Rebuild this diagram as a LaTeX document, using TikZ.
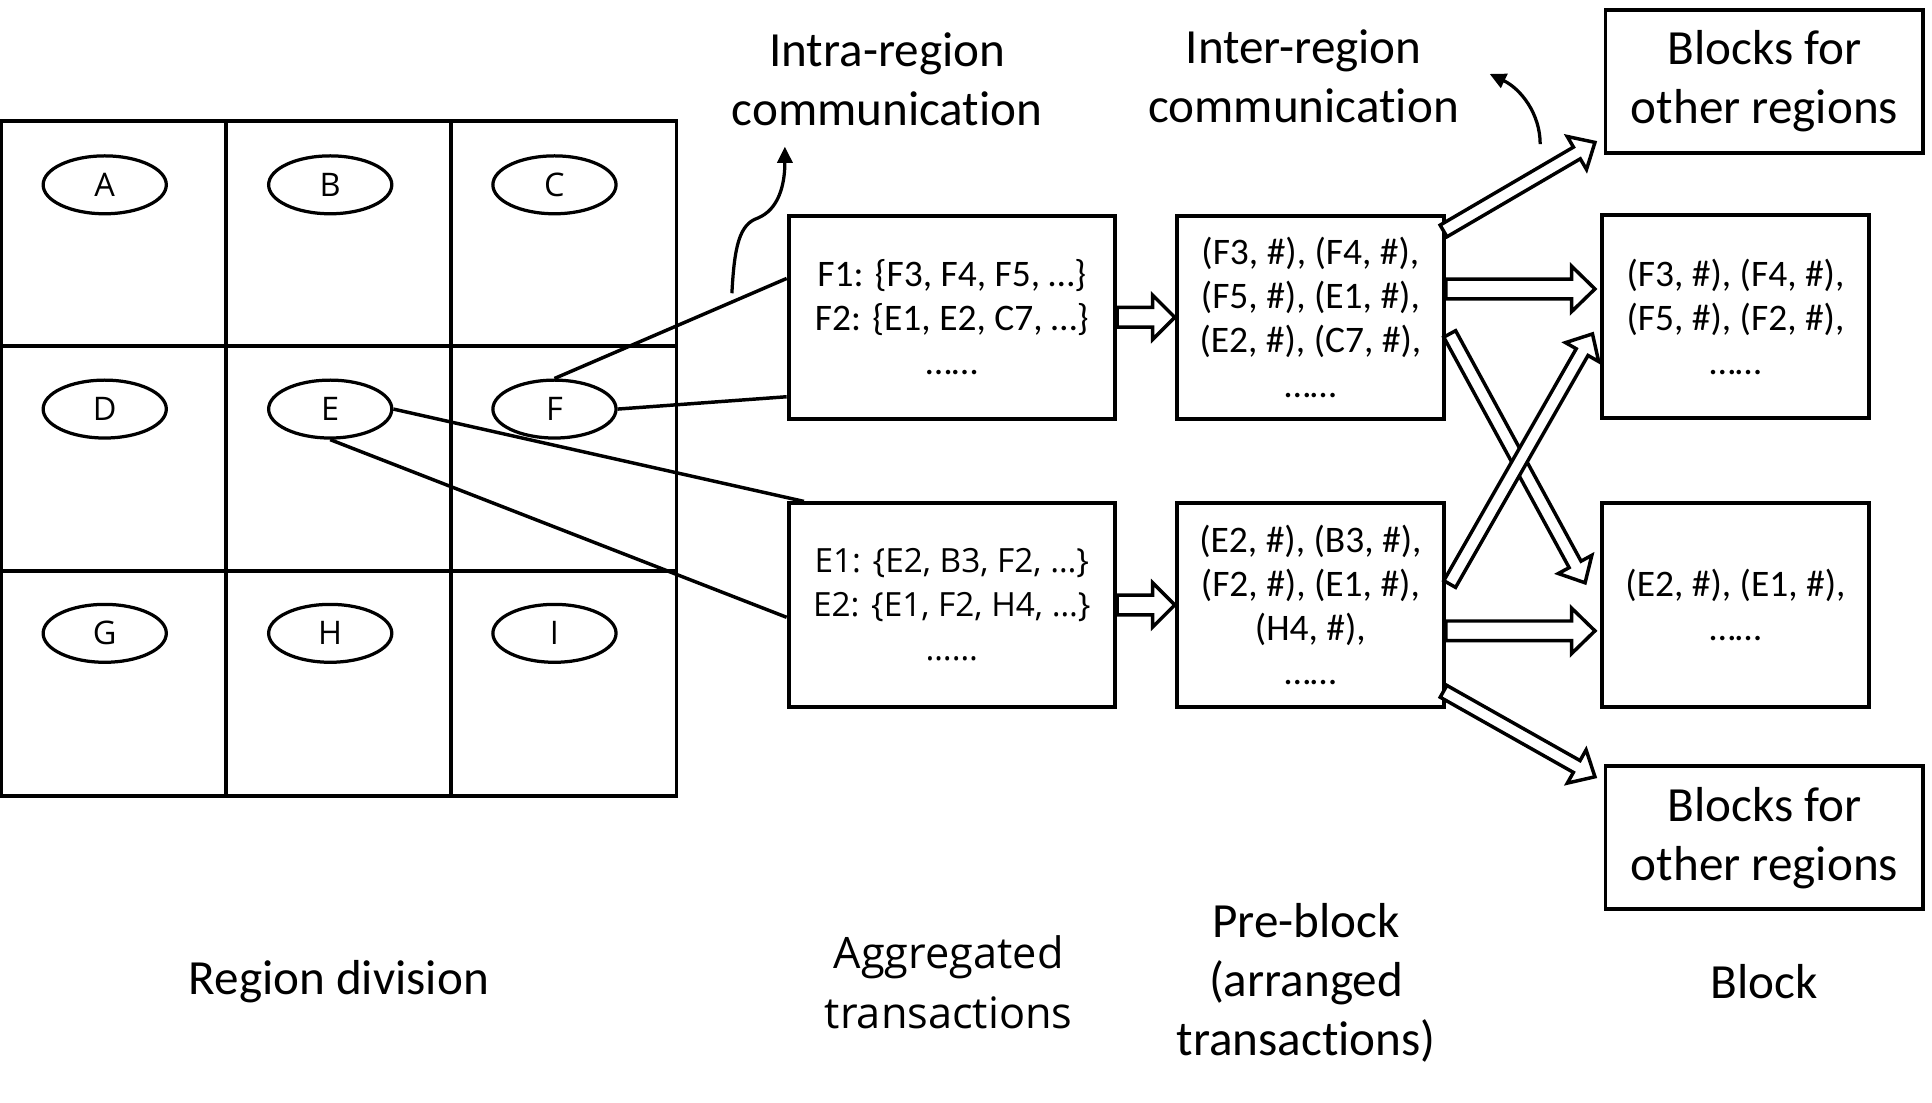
\documentclass[tikz,border=0pt]{standalone}
\usepackage{fontspec}
\setmainfont{Carlito}[Ligatures={NoCommon}]
\newfontfamily\segoefont{Open Sans}
\usetikzlibrary{shapes.geometric, arrows.meta, positioning, calc}

\tikzset{
    cellline/.style={line width=1.8pt},
    region/.style={ellipse, draw, line width=1.5pt, minimum width=2cm, minimum height=0.94cm,
          inner sep=0pt, font=\segoefont\fontsize{15}{17}\selectfont},
    txbox/.style={draw, line width=1.8pt, align=center, inner sep=0pt,
          font=\fontsize{17.3}{20.4}\selectfont},
    aggbox/.style={txbox, minimum width=5.3cm, minimum height=3.3cm},
    prebox/.style={txbox, minimum width=4.34cm, minimum height=3.3cm},
    otherbox/.style={txbox, minimum width=5.16cm, minimum height=2.32cm,
          font=\fontsize{22.7}{27.3}\selectfont},
    stagelabel/.style={align=center, inner sep=0pt, font=\fontsize{22.7}{27.3}\selectfont},
    link/.style={line width=1.6pt},
    fatline/.style={draw, fill=white, line width=1.6pt, line join=miter},
    commarrow/.style={line width=1.5pt, -{Triangle[length=7.5pt, width=7pt]}}
}

\newcommand{\fatarrow}[5]{%
    \coordinate (fah) at ($(#2)!#5!(#1)$);
    \draw[fatline] ($(#1)!#3!90:(#2)$) -- ($(fah)!#3!-90:(#1)$) -- ($(fah)!#4!-90:(#1)$)
        -- (#2) -- ($(fah)!#4!90:(#1)$) -- ($(fah)!#3!90:(#1)$) -- ($(#1)!#3!-90:(#2)$) -- cycle;
}

\begin{document}
\begin{tikzpicture}[x=0.02cm, y=-0.02cm]
    \useasboundingbox (0,0) rectangle (1568,895);

    \draw[cellline] (1,98) rectangle (549,646);
    \draw[cellline] (183.67,98) -- (183.67,646);
    \draw[cellline] (366.33,98) -- (366.33,646);
    \draw[cellline] (1,280.67) -- (549,280.67);
    \draw[cellline] (1,463.33) -- (549,463.33);

    \foreach \name/\x/\y in {A/85/150, B/268/150, C/450/150, D/85/332, E/268/332,
                             F/450/332, G/85/514, H/268/514, I/450/514}
        \node[region] (\name) at (\x,\y) {\name};

    \node[aggbox] (aggF) at (772.5,257.5) {F1: \{F3, F4, F5, …\}\\F2: \{E1, E2, C7, …\}\\……};
    \node[aggbox, font=\segoefont\fontsize{15.4}{20.4}\selectfont] (aggE) at (772.5,491)
        {E1: \{E2, B3, F2, …\}\\E2: \{E1, F2, H4, …\}\\……};
    \node[prebox] (preF) at (1063.5,257.5) {(F3, \#), (F4, \#),\\(F5, \#), (E1, \#),\\(E2, \#), (C7, \#),\\……};
    \node[prebox] (preE) at (1063.5,491) {(E2, \#), (B3, \#),\\(F2, \#), (E1, \#),\\(H4, \#),\\……};
    \node[prebox] (blkF) at (1408.5,257) {(F3, \#), (F4, \#),\\(F5, \#), (F2, \#),\\……};
    \node[prebox] (blkE) at (1408.5,491) {(E2, \#), (E1, \#),\\……};
    \node[otherbox] (othUp) at (1432,66) {Blocks for\\other regions};
    \node[otherbox] (othDn) at (1432,680) {Blocks for\\other regions};

    \node[stagelabel] (lRegion) at (275,797) {Region division};
    \node[stagelabel, font=\segoefont\fontsize{20}{27.8}\selectfont] (lAgg) at (770,797.5) {Aggregated\\transactions};
    \node[stagelabel] (lPre) at (1060,797.5) {Pre-block\\(arranged\\transactions)};
    \node[stagelabel] (lBlock) at (1432,797) {Block};
    \node[stagelabel] (lIntra) at (720,64) {Intra-region\\communication};
    \node[stagelabel] (lInter) at (1058,62) {Inter-region\\communication};

    \draw[link] (F.north) -- ($(aggF.west)+(0,-31.5)$);
    \draw[link] (F.east) -- ($(aggF.west)+(0,64.5)$);
    \draw[link] (E.east) -- ($(aggE.north west)+(14,0)$);
    \draw[link] (E.south) -- ($(aggE.west)+(0,10)$);

    \fatarrow{aggF.east}{preF.west}{0.16cm}{0.36cm}{0.36cm}
    \fatarrow{aggE.east}{preE.west}{0.16cm}{0.36cm}{0.36cm}

    \coordinate (pFa) at ($(preF.east)+(0,-23)$);
    \coordinate (bFa) at ($(blkF.west)+(-4,-22.5)$);
    \coordinate (pEa) at ($(preE.east)+(0,21)$);
    \coordinate (bEa) at ($(blkE.west)+(-4,21)$);
    \coordinate (pFu) at ($(preF.north east)+(-2,14)$);
    \coordinate (oUa) at ($(othUp.south west)+(-7,-10)$);
    \coordinate (pEd) at ($(preE.south east)+(-2,-14)$);
    \coordinate (oDa) at ($(othDn.north west)+(-7,10)$);
    \coordinate (pFx) at ($(preF.east)+(3,13.5)$);
    \coordinate (bEx) at ($(blkE.west)+(-12,-18)$);
    \coordinate (pEx) at ($(preE.east)+(3,-17)$);
    \coordinate (bFx) at ($(blkF.west)+(-6,14)$);

    \fatarrow{pFa}{bFa}{0.16cm}{0.37cm}{0.38cm}
    \fatarrow{pEa}{bEa}{0.16cm}{0.37cm}{0.38cm}
    \fatarrow{pFu}{oUa}{0.11cm}{0.31cm}{0.34cm}
    \fatarrow{pEd}{oDa}{0.11cm}{0.31cm}{0.34cm}
    \fatarrow{pFx}{bEx}{0.11cm}{0.31cm}{0.34cm}
    \fatarrow{pEx}{bFx}{0.11cm}{0.31cm}{0.34cm}

    \coordinate (iFoot) at (594,238);
    \coordinate (iTip) at (637,119);
    \coordinate (eFoot) at (1250,117);
    \coordinate (eTip) at (1209,60);
    \draw[commarrow] (iFoot) .. controls (596,200) and (600,182) .. (615,177)
        .. controls (632,170) and (637,150) .. (iTip);
    \draw[commarrow] (eFoot) .. controls (1250,92) and (1234,72) .. (eTip);
\end{tikzpicture}
\end{document}
